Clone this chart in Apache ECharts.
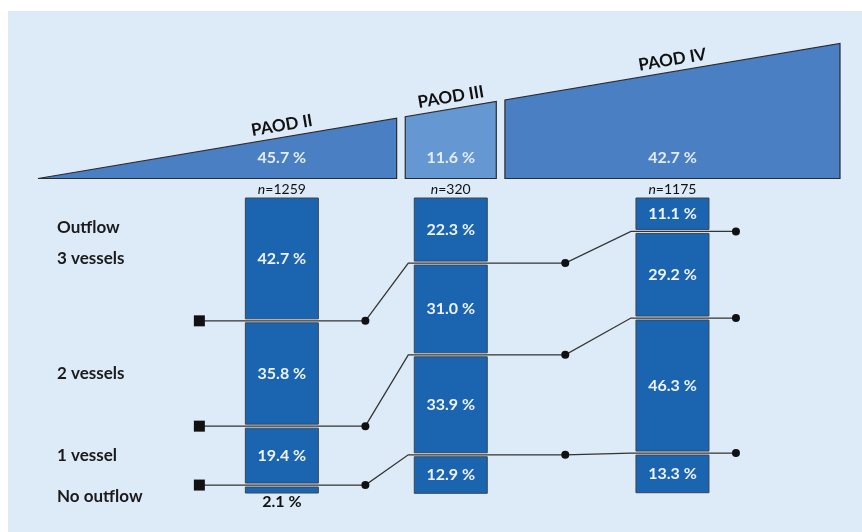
<!DOCTYPE html>
<html><head><meta charset="utf-8">
<script src="https://cdn.jsdelivr.net/npm/echarts@6/dist/echarts.min.js"></script>
<style>html,body{margin:0;padding:0;background:#fff}#c{width:862px;height:532px}</style>
</head><body><div id="c"></div>
<script>
// ---- data ----
const stages = ['PAOD II', 'PAOD III', 'PAOD IV'];
const stageShare = [45.7, 11.6, 42.7];
const stageN = [1259, 320, 1175];
const outflowLabels = ['3 vessels', '2 vessels', '1 vessel', 'No outflow'];
const outflow3 = [42.7, 22.3, 11.1];
const outflow2 = [35.8, 31.0, 29.2];
const outflow1 = [19.4, 33.9, 46.3];
const outflow0 = [2.1, 12.9, 13.3];
const segValues = [outflow3, outflow2, outflow1, outflow0];

// ---- layout helpers ----
const GAP = 1.1;
const starts = []; let acc = 0;
stageShare.forEach(s => { starts.push(acc); acc += s + GAP; });
const xMax = acc - GAP;
const anchor = [0.68, 0.5, 0.5];
const centers = stageShare.map((s, i) => starts[i] + s * anchor[i]);

const FONT = 'Lato, "Open Sans", sans-serif';
const BAR_W = 73, SEG_GAP = 4, BASE_Y = 178.5, SLOPE = 0.1683;
const BAR_FILL = '#1b64b0', BORDER = '#3a4652';
const SHAPE_FILL = ['#4a7fc3', '#6598d3', '#4a7fc3'];

function cumBefore(seg, i) { let c = 0; for (let k = 0; k < seg; k++) c += segValues[k][i]; return c; }

const shapeData = stages.map((s, i) => [i]);
const segData = [];
stages.forEach((s, i) => segValues.forEach((arr, k) => segData.push([i, k])));
const lineData = [[0], [1], [2]];

function renderShape(params, api) {
  const i = api.value(0);
  const x0 = api.coord([0, 0])[0];
  const xl = api.coord([starts[i], 0])[0];
  const xr = api.coord([starts[i] + stageShare[i], 0])[0];
  const cx = api.coord([centers[i], 0])[0];
  const pts = [[xl, BASE_Y], [xl, BASE_Y - (xl - x0) * SLOPE], [xr, BASE_Y - (xr - x0) * SLOPE], [xr, BASE_Y]];
  return {
    type: 'group', children: [
      { type: 'polygon', shape: { points: pts }, style: { fill: SHAPE_FILL[i], stroke: '#2b2b2b', lineWidth: 1.2 } },
      { type: 'text', x: cx, y: BASE_Y - (cx - x0) * SLOPE - 12, rotation: Math.atan(SLOPE),
        style: { text: stages[i], fill: '#111', font: 'bold 17px ' + FONT, align: 'center', verticalAlign: 'middle' } },
      { type: 'text', x: cx, y: BASE_Y - 21,
        style: { text: stageShare[i].toFixed(1) + ' %', fill: '#e3ecf8', font: 'bold 16px ' + FONT, align: 'center', verticalAlign: 'middle' } },
      { type: 'text', x: cx, y: BASE_Y + 11,
        style: { text: '{i|n}=' + stageN[i], fill: '#111', font: '14px ' + FONT, align: 'center', verticalAlign: 'middle',
          rich: { i: { fontStyle: 'italic', fontSize: 14, fontFamily: FONT, fill: '#111' } } } }
    ]
  };
}

function renderSeg(params, api) {
  const i = api.value(0), k = api.value(1);
  const v = segValues[k][i];
  const c = cumBefore(k, i);
  const cx = api.coord([centers[i], 0])[0];
  const yTop = api.coord([0, c])[1] + k * SEG_GAP;
  const yBot = api.coord([0, c + v])[1] + k * SEG_GAP;
  const h = yBot - yTop;
  const children = [
    { type: 'rect', shape: { x: cx - BAR_W / 2, y: yTop, width: BAR_W, height: h }, style: { fill: BAR_FILL, stroke: BORDER, lineWidth: 1 } }
  ];
  const big = h > 20;
  children.push({ type: 'text', x: cx, y: big ? (yTop + yBot) / 2 : yBot + 9,
    style: { text: v.toFixed(1) + ' %', fill: big ? '#eef3fa' : '#111', font: 'bold 16px ' + FONT, align: 'center', verticalAlign: 'middle' } });
  if (i === 0) {
    const lx = api.coord([0, 0])[0] + 19;
    const ly = big ? (yTop + yBot) / 2 : (yTop + yBot) / 2 + 6;
    children.push({ type: 'text', x: lx, y: ly,
      style: { text: outflowLabels[k], fill: '#1a1a1a', font: 'bold 17px ' + FONT, align: 'left', verticalAlign: 'middle' } });
    if (k === 0) {
      children.push({ type: 'text', x: lx, y: ly - 31,
        style: { text: 'Outflow', fill: '#1a1a1a', font: 'bold 17px ' + FONT, align: 'left', verticalAlign: 'middle' } });
    }
  }
  return { type: 'group', children };
}

function renderLine(params, api) {
  const k = api.value(0);
  const ys = [], cxs = [];
  for (let i = 0; i < stages.length; i++) {
    const c = cumBefore(k + 1, i);
    ys.push(api.coord([0, c])[1] + k * SEG_GAP + SEG_GAP / 2);
    cxs.push(api.coord([centers[i], 0])[0]);
  }
  const L = cxs.map(x => x - BAR_W / 2), R = cxs.map(x => x + BAR_W / 2);
  const pts = [
    [L[0] - 46, ys[0]], [R[0] + 47, ys[0]],
    [L[1] - 6, ys[1]], [R[1] + 78, ys[1]],
    [L[2] - 5, ys[2]], [R[2] + 27, ys[2]]
  ];
  return {
    type: 'group', children: [
      { type: 'polyline', shape: { points: pts }, style: { stroke: '#333', lineWidth: 1.3, fill: null } },
      { type: 'rect', shape: { x: pts[0][0] - 5.5, y: pts[0][1] - 5.5, width: 11, height: 11 }, style: { fill: '#111' } },
      { type: 'circle', shape: { cx: pts[1][0], cy: pts[1][1], r: 4 }, style: { fill: '#111' } },
      { type: 'circle', shape: { cx: pts[3][0], cy: pts[3][1], r: 4 }, style: { fill: '#111' } },
      { type: 'circle', shape: { cx: pts[5][0], cy: pts[5][1], r: 4 }, style: { fill: '#111' } }
    ]
  };
}

const chart = echarts.init(document.getElementById('c'), null, { renderer: 'canvas' });
chart.setOption({
  animation: false,
  backgroundColor: '#ffffff',
  graphic: [{ type: 'rect', z: -10, shape: { x: 8, y: 11, width: 854, height: 521 }, style: { fill: '#ddeaf7' } }],
  grid: { left: 38, top: 198, width: 802, height: 283 },
  xAxis: { type: 'value', min: 0, max: xMax, show: false },
  yAxis: { type: 'value', min: 0, max: 100, inverse: true, show: false },
  series: [
    { type: 'custom', renderItem: renderShape, data: shapeData, clip: false, z: 2 },
    { type: 'custom', renderItem: renderSeg, data: segData, clip: false, z: 3 },
    { type: 'custom', renderItem: renderLine, data: lineData, clip: false, z: 4 }
  ]
});
</script></body></html>
